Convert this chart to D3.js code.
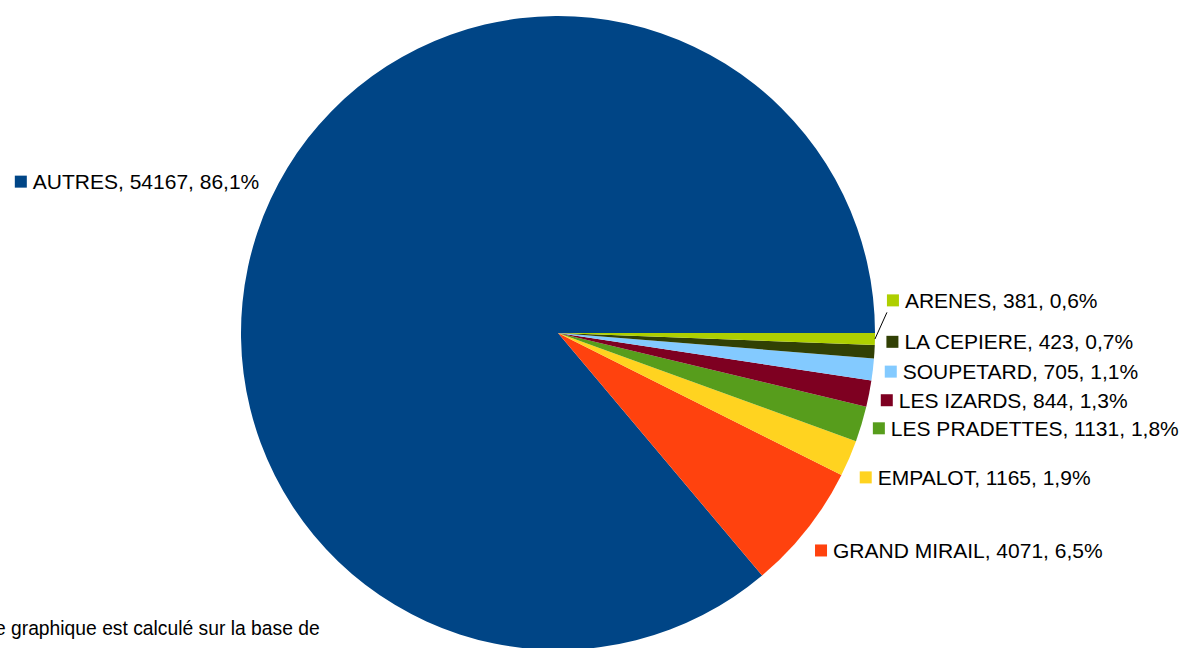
<!DOCTYPE html>
<html>
<head>
<meta charset="utf-8">
<script src="https://cdn.jsdelivr.net/npm/d3@7"></script>
<style>
  body { margin: 0; background: #fff; }
  svg { display: block; font-family: 'Liberation Sans', Arial, sans-serif; }
</style>
</head>
<body>
<div id="chart"></div>
<script>
// data (LibreOffice order: drawn counter-clockwise from 3 o'clock)
const names = ['AUTRES', 'GRAND MIRAIL', 'EMPALOT', 'LES PRADETTES',
  'LES IZARDS', 'SOUPETARD', 'LA CEPIERE', 'ARENES'];
const counts = [54167, 4071, 1165, 1131, 844, 705, 423, 381];
const colors = ['#004586', '#ff420e', '#ffd320', '#579d1c',
  '#7e0021', '#83caff', '#314004', '#aecf00'];
// manual vertical nudge of each label, same order as names
const labelShift = [-10, 10, 12, -1, 3, 0, -11, -39];
const note = 'Ce graphique est calculé sur la base de';

const s = {
  width: 1188,
  height: 648,
  cx: 558,
  cy: 333,
  r: 317,
  labelR: 335,
  fontSize: 21
};

const svg = d3.select('#chart').append('svg')
  .attr('width', s.width)
  .attr('height', s.height);

const rows = names.map((n, i) => ({name: n, value: counts[i], color: colors[i], shift: labelShift[i]}));
const total = d3.sum(counts);

const pie = d3.pie()
  .sort(null)
  .value(d => d.value)
  .startAngle(Math.PI / 2)
  .endAngle(Math.PI / 2 - 2 * Math.PI);
const arcs = pie(rows);

const arc = d3.arc().innerRadius(0).outerRadius(s.r);

const g = svg.append('g')
  .attr('transform', `translate(${s.cx}, ${s.cy})`);

g.selectAll('path.slice')
  .data(arcs)
  .join('path')
  .attr('class', 'slice')
  .attr('d', arc)
  .style('fill', d => d.data.color);

// labels
const fmtPct = v => (Math.round(v * 1000) / 10).toFixed(1).replace('.', ',') + '%';
const sq = 12;
const gap = 6;

const labels = g.selectAll('g.label')
  .data(arcs)
  .join('g')
  .attr('class', 'label');

labels.each(function(d) {
  const a = (d.startAngle + d.endAngle) / 2;
  const ax = s.labelR * Math.sin(a);
  const ay = -s.labelR * Math.cos(a) + d.data.shift;
  const right = ax > 0;
  const el = d3.select(this);
  const txt = `${d.data.name}, ${d.data.value}, ${fmtPct(d.data.value / total)}`;

  const t = el.append('text')
    .attr('y', ay + 7.5)
    .style('font-size', `${s.fontSize}px`)
    .style('fill', '#000')
    .text(txt);

  let sx;
  if (right) {
    sx = ax - sq / 2;
    t.attr('x', sx + sq + gap);
  } else {
    const w = t.node().getComputedTextLength();
    const endX = ax + 5;
    t.attr('x', endX - w);
    sx = endX - w - gap - sq;
  }
  el.insert('rect', 'text')
    .attr('x', sx)
    .attr('y', ay - sq / 2)
    .attr('width', sq)
    .attr('height', sq)
    .style('fill', d.data.color);

  // leader line when the label moved far from its slice
  if (Math.abs(d.data.shift) > 20) {
    el.append('line')
      .attr('x1', s.r * Math.sin(a))
      .attr('y1', -s.r * Math.cos(a))
      .attr('x2', sx)
      .attr('y2', ay + sq / 2 + 6)
      .style('stroke', '#000')
      .style('stroke-width', 1);
  }
});

// footnote, cut by the left border as in the source
svg.append('text')
  .attr('x', -19)
  .attr('y', 635)
  .style('font-size', '19.3px')
  .style('fill', '#000')
  .text(note);
</script>
</body>
</html>
